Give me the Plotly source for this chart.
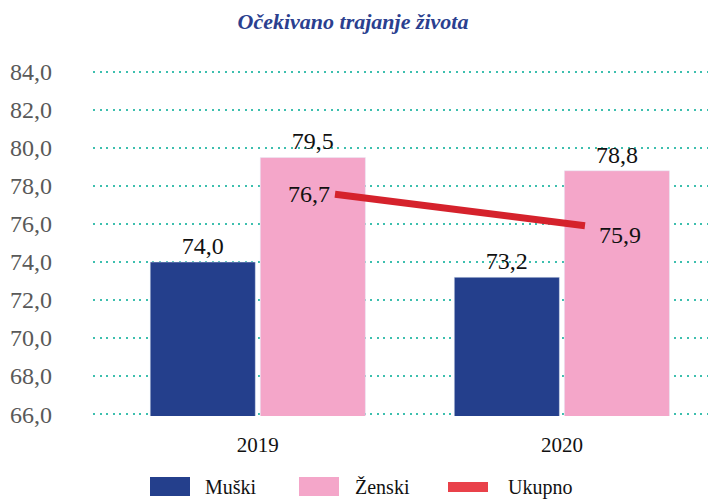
import plotly.graph_objects as go

# ---- data ----
categories = ["2019", "2020"]
muski = [74.0, 73.2]
zenski = [79.5, 78.8]
ukupno = [76.7, 75.9]
series_names = ["Muški", "Ženski", "Ukupno"]
title_text = "Očekivano trajanje života"
y_ticks = [66, 68, 70, 72, 74, 76, 78, 80, 82, 84]

# ---- style ----
navy = "#243f8c"
pink = "#f4a6c9"
red_line = "#d5222c"
red_legend = "#e9414a"
grid_col = "#3dbfae"
serif = "Liberation Serif, Times New Roman, serif"

# page body has an 8px default margin -> figure coords = page coords - 8
OFF = 8
W, H = 716 - OFF, 499 - OFF
ML, MR, MT, MB = 93 - OFF, 3, 70 - OFF, H - (416 - OFF)
pw, ph = W - ML - MR, H - MT - MB

def px2paper_x(px):
    return (px - OFF - ML) / pw

def px2paper_y(py):
    return (H - MB - (py - OFF)) / ph

fig = go.Figure()

fig.add_trace(go.Bar(
    x=categories, y=muski, name=series_names[0], marker_color=navy,
    texttemplate="%{y:.1f}", textposition="outside",
    textfont=dict(family=serif, size=24, color="#111111"),
    cliponaxis=False, showlegend=False,
))
fig.add_trace(go.Bar(
    x=categories, y=zenski, name=series_names[1], marker_color=pink,
    texttemplate="%{y:.1f}", textposition="outside",
    textfont=dict(family=serif, size=24, color="#111111"),
    cliponaxis=False, showlegend=False,
))
fig.add_trace(go.Scatter(
    x=categories, y=ukupno, name=series_names[2], mode="lines",
    line=dict(color=red_line, width=7),
    xaxis="x2", yaxis="y2", showlegend=False, cliponaxis=False,
))

# line value labels, anchored to the line's own data points (category index)
label_anchor = [("right", -3, 0), ("left", 12, -9)]
for i, (val, (xa, xs, ys)) in enumerate(zip(ukupno, label_anchor)):
    fig.add_annotation(x=i, y=val, xref="x2", yref="y2",
                       text=f"{val:.1f}".replace(".", ","),
                       xanchor=xa, yanchor="middle", xshift=xs, yshift=ys,
                       showarrow=False,
                       font=dict(family=serif, size=24, color="#111111"))

fig.update_layout(
    width=W, height=H,
    margin=dict(l=ML, r=MR, t=MT, b=MB),
    paper_bgcolor="white", plot_bgcolor="white",
    separators=",.",
    barmode="group", bargap=0.276, bargroupgap=0.045,
    title=dict(text="<b><i>" + title_text + "</i></b>",
               x=px2paper_x(353) * pw / W + ML / W, xanchor="center",
               y=1 - (21 - OFF) / H, yanchor="middle",
               font=dict(family=serif, size=22, color="#2b3f8f")),
    xaxis=dict(type="category", range=[-0.542, 1.497], showgrid=False,
               showline=False, zeroline=False, ticks="",
               tickfont=dict(family=serif, size=21, color="#111111"),
               ticklabelstandoff=14),
    yaxis=dict(range=[65.9, 84.1], tickvals=y_ticks, tickformat=".1f",
               showgrid=True, gridcolor=grid_col, gridwidth=2.2,
               griddash="2px,4.6px", zeroline=False, showline=False, ticks="",
               tickfont=dict(family=serif, size=24, color="#595959"),
               ticklabelstandoff=40),
    xaxis2=dict(type="category", overlaying="x", range=[-0.968, 1.512],
                visible=False),
    yaxis2=dict(overlaying="y", range=[71.052, 79.867], visible=False),
)

# ---- custom legend ----
legend_colors = [navy, pink, red_legend]
swatch_boxes = [(150, 477, 190, 496), (299, 477, 339, 496), (448, 482, 488, 492)]
text_x = [203, 353, 506]
for name, col, (x0, y0, x1, y1), tx in zip(series_names, legend_colors, swatch_boxes, text_x):
    fig.add_shape(type="rect", xref="paper", yref="paper",
                  x0=px2paper_x(x0), x1=px2paper_x(x1),
                  y0=px2paper_y(y1), y1=px2paper_y(y0),
                  fillcolor=col, line_width=0, layer="above")
    fig.add_annotation(text=name, xref="paper", yref="paper",
                       x=px2paper_x(tx), y=px2paper_y(487),
                       xanchor="left", yanchor="middle", showarrow=False,
                       font=dict(family=serif, size=20, color="#111111"))

fig.write_html("out.html")
